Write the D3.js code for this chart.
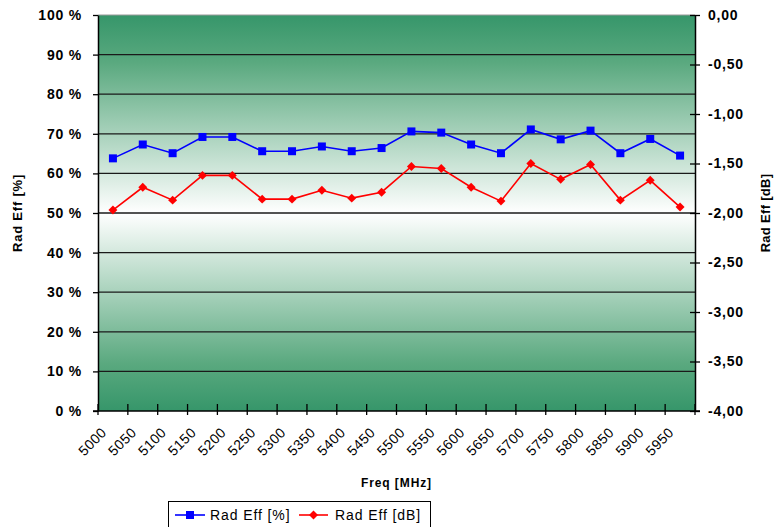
<!DOCTYPE html>
<html>
<head>
<meta charset="utf-8">
<script src="https://cdn.jsdelivr.net/npm/d3@7"></script>
<style>
  body { margin: 0; background: #fff; }
  text { font-family: "Liberation Sans", Arial, sans-serif; fill: #000; }
</style>
</head>
<body>
<script>
"use strict";

const freqs = ["5000","5050","5100","5150","5200","5250","5300","5350","5400","5450",
               "5500","5550","5600","5650","5700","5750","5800","5850","5900","5950"];
const effPct = [63.8, 67.3, 65.1, 69.2, 69.2, 65.6, 65.6, 66.8, 65.6, 66.4,
                70.6, 70.3, 67.3, 65.1, 71.1, 68.6, 70.8, 65.1, 68.7, 64.5];
const effDb = [-1.97, -1.74, -1.87, -1.62, -1.62, -1.86, -1.86, -1.77, -1.85, -1.79,
               -1.53, -1.55, -1.74, -1.88, -1.50, -1.66, -1.51, -1.87, -1.67, -1.94];
const pctTicks = [0, 10, 20, 30, 40, 50, 60, 70, 80, 90, 100];
const dbTicks = [0, -0.5, -1, -1.5, -2, -2.5, -3, -3.5, -4];

let margins = {top: 15, right: 79, bottom: 116, left: 98};
let W = 774, H = 527;
let width = W - margins.left - margins.right;
let height = H - margins.top - margins.bottom;

let svg = d3.select('body').append('svg')
    .attr('width', W)
    .attr('height', H);

let defs = svg.append('defs');
let grad = defs.append('linearGradient')
    .attr('id', 'bg')
    .attr('x1', 0).attr('y1', 0).attr('x2', 0).attr('y2', 1);
grad.append('stop').attr('offset', '0%').attr('stop-color', '#36966a');
grad.append('stop').attr('offset', '12%').attr('stop-color', '#5aa97f');
grad.append('stop').attr('offset', '50%').attr('stop-color', '#ffffff');
grad.append('stop').attr('offset', '88%').attr('stop-color', '#5aa97f');
grad.append('stop').attr('offset', '100%').attr('stop-color', '#36966a');

let g = svg.append('g')
    .attr('transform', 'translate(' + margins.left + ',' + margins.top + ')');

let x = d3.scaleBand().domain(freqs).range([0, width]).padding(0);
let yL = d3.scaleLinear().domain([0, 100]).range([height, 0]);
let yR = d3.scaleLinear().domain([-4, 0]).range([height, 0]);
let cx = function(d, i) { return x(freqs[i]) + x.bandwidth() / 2; };

// plot background
g.append('rect')
    .attr('width', width)
    .attr('height', height)
    .attr('fill', 'url(#bg)');

// top border
g.append('line')
    .attr('x1', 0).attr('x2', width)
    .attr('y1', 0).attr('y2', 0)
    .attr('stroke', '#999').attr('stroke-width', 1.2);

// gridlines
g.selectAll('.grid')
    .data(pctTicks.filter(function(t) { return t > 0 && t < 100; }))
    .enter().append('line')
    .attr('class', 'grid')
    .attr('x1', 0).attr('x2', width)
    .attr('y1', function(d) { return yL(d); })
    .attr('y2', function(d) { return yL(d); })
    .attr('stroke', '#1a1a1a')
    .attr('stroke-width', 1.3);

// left axis
let axL = g.append('g')
    .call(d3.axisLeft(yL).tickValues(pctTicks).tickSize(5).tickSizeOuter(0)
        .tickFormat(function(d) { return d + ' %'; }));
axL.select('.domain').attr('stroke', '#000').attr('stroke-width', 1.5);
axL.selectAll('.tick line').attr('stroke', '#000').attr('stroke-width', 1.3);
axL.selectAll('.tick text')
    .attr('x', -16)
    .style('font-size', '14px')
    .style('font-weight', 'bold')
    .style('letter-spacing', '0.8px');

// right axis
let axR = g.append('g')
    .attr('transform', 'translate(' + width + ',0)')
    .call(d3.axisRight(yR).tickValues(dbTicks).tickSize(5).tickSizeOuter(0)
        .tickFormat(function(d) { return d3.format('.2f')(d).replace('.', ',').replace('−', '-'); }));
axR.select('.domain').attr('stroke', '#000').attr('stroke-width', 1.5);
axR.selectAll('.tick line').attr('x1', -5).attr('stroke', '#000').attr('stroke-width', 1.3);
axR.selectAll('.tick text')
    .attr('x', 13)
    .style('font-size', '14px')
    .style('font-weight', 'bold')
    .style('letter-spacing', '0.8px');

// bottom axis
let axB = g.append('g').attr('transform', 'translate(0,' + height + ')');
axB.append('line')
    .attr('x1', -5).attr('x2', width + 5)
    .attr('stroke', '#000').attr('stroke-width', 1.5);
let edges = freqs.map(function(f) { return x(f); }).concat([width]);
axB.selectAll('.xt')
    .data(edges)
    .enter().append('line')
    .attr('class', 'xt')
    .attr('x1', function(d) { return d; }).attr('x2', function(d) { return d; })
    .attr('y1', -7).attr('y2', 4)
    .attr('stroke', '#000').attr('stroke-width', 1.3);
axB.selectAll('.xl')
    .data(freqs)
    .enter().append('text')
    .attr('class', 'xl')
    .attr('transform', function(d) {
        return 'translate(' + (x(d) + x.bandwidth() / 2 - 9) + ',19) rotate(-45)';
    })
    .attr('text-anchor', 'end')
    .attr('dy', '0.35em')
    .style('font-size', '14px')
    .style('letter-spacing', '0.4px')
    .text(function(d) { return d; });

// axis titles
svg.append('text')
    .attr('transform', 'translate(22,' + (margins.top + height / 2) + ') rotate(-90)')
    .attr('text-anchor', 'middle')
    .style('font-size', '13px')
    .style('font-weight', 'bold')
    .style('letter-spacing', '0.8px')
    .text('Rad Eff [%]');
svg.append('text')
    .attr('transform', 'translate(770,' + (margins.top + height / 2) + ') rotate(-90)')
    .attr('text-anchor', 'middle')
    .style('font-size', '13px')
    .style('font-weight', 'bold')
    .style('letter-spacing', '0.3px')
    .text('Rad Eff [dB]');
svg.append('text')
    .attr('x', margins.left + width / 2)
    .attr('y', 487)
    .attr('text-anchor', 'middle')
    .style('font-size', '12px')
    .style('font-weight', 'bold')
    .style('letter-spacing', '0.9px')
    .text('Freq [MHz]');

// series
let lineL = d3.line().x(cx).y(function(d) { return yL(d); });
let lineR = d3.line().x(cx).y(function(d) { return yR(d); });

g.append('path')
    .datum(effPct)
    .attr('d', lineL)
    .attr('fill', 'none')
    .attr('stroke', '#0000ff')
    .attr('stroke-width', 1.6);
g.selectAll('.sq')
    .data(effPct)
    .enter().append('rect')
    .attr('class', 'sq')
    .attr('x', function(d, i) { return cx(d, i) - 4; })
    .attr('y', function(d) { return yL(d) - 4; })
    .attr('width', 8).attr('height', 8)
    .attr('fill', '#0000ff');

g.append('path')
    .datum(effDb)
    .attr('d', lineR)
    .attr('fill', 'none')
    .attr('stroke', '#ff0000')
    .attr('stroke-width', 1.6);
// diamond = square turned 45 degrees
let diamond = d3.symbol().type(d3.symbolSquare).size(40);
g.selectAll('.dm')
    .data(effDb)
    .enter().append('path')
    .attr('class', 'dm')
    .attr('d', diamond)
    .attr('transform', function(d, i) {
        return 'translate(' + cx(d, i) + ',' + yR(d) + ') rotate(45)';
    })
    .attr('fill', '#ff0000');

// legend
let leg = svg.append('g');
leg.append('rect')
    .attr('x', 168.5).attr('y', 501.5)
    .attr('width', 262).attr('height', 40)
    .attr('fill', '#fff')
    .attr('stroke', '#000')
    .attr('stroke-width', 1);
leg.append('line').attr('x1', 175).attr('x2', 205).attr('y1', 515).attr('y2', 515)
    .attr('stroke', '#0000ff').attr('stroke-width', 1.6);
leg.append('rect').attr('x', 186).attr('y', 511).attr('width', 8).attr('height', 8)
    .attr('fill', '#0000ff');
leg.append('text').attr('x', 210).attr('y', 520)
    .style('font-size', '14px').style('letter-spacing', '0.9px')
    .text('Rad Eff [%]');
leg.append('line').attr('x1', 299).attr('x2', 328).attr('y1', 515).attr('y2', 515)
    .attr('stroke', '#ff0000').attr('stroke-width', 1.6);
leg.append('path').attr('d', diamond)
    .attr('transform', 'translate(313.5,515) rotate(45)')
    .attr('fill', '#ff0000');
leg.append('text').attr('x', 335).attr('y', 520)
    .style('font-size', '14px').style('letter-spacing', '0.9px')
    .text('Rad Eff [dB]');
</script>
</body>
</html>
